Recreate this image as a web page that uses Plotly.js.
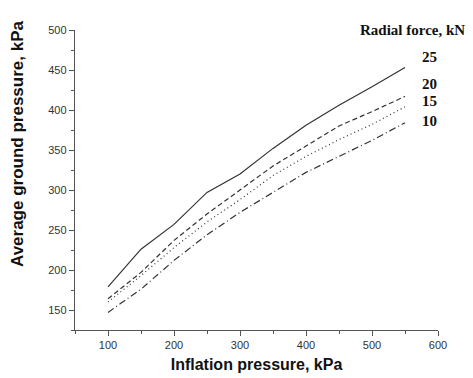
<!DOCTYPE html>
<html>
<head>
<meta charset="utf-8">
<script src="https://cdn.plot.ly/plotly-3.0.1.min.js"></script>
<style>html,body{margin:0;padding:0;background:#fff;}#chart{width:473px;height:378px;}</style>
</head>
<body>
<div id="chart"></div>
<script>
const inflation = [100, 150, 200, 250, 300, 350, 400, 450, 500, 550];
const force25 = [179, 226, 257, 297, 320, 352, 381, 406, 429, 453];
const force20 = [164, 197, 237, 270, 300, 330, 355, 380, 398, 417];
const force15 = [160, 193, 228, 260, 288, 318, 342, 363, 382, 404];
const force10 = [147, 176, 212, 244, 272, 297, 322, 342, 362, 384];
const seriesNames = ['25', '20', '15', '10'];
const dashes = ['solid', '5px,3px', '1px,3px', '7px,3px,1px,3px'];
const seriesData = [force25, force20, force15, force10];
const labelY = [0.91, 0.82, 0.763, 0.697];

const traces = seriesData.map((ys, i) => ({
  x: inflation, y: ys, type: 'scatter', mode: 'lines', name: seriesNames[i] + ' kN',
  line: {color: '#333', width: 1.2, dash: dashes[i]}, showlegend: false
}));

const serif = {family: 'Liberation Serif, Times New Roman, serif', size: 15, color: '#111'};
const annotations = [
  {xref: 'paper', yref: 'paper', x: 0.78, y: 1.0, xanchor: 'left', yanchor: 'middle',
   text: '<b>Radial force, kN</b>', showarrow: false, font: serif},
  {xref: 'paper', yref: 'paper', x: -0.16, y: 0.623, xanchor: 'center', yanchor: 'middle',
   textangle: -90, text: '<b>Average ground pressure, kPa</b>', showarrow: false,
   font: {family: 'Liberation Sans, Arial, sans-serif', size: 17, color: '#111'}}
];
seriesNames.forEach((n, i) => annotations.push({
  xref: 'paper', yref: 'paper', x: 0.95, y: labelY[i], xanchor: 'left', yanchor: 'middle',
  text: '<b>' + n + '</b>', showarrow: false, font: serif
}));

const axisCommon = {
  showgrid: false, zeroline: false, showline: true, linecolor: '#555', linewidth: 1.2,
  ticks: 'outside', ticklen: 5, tickwidth: 1, tickcolor: '#555',
  tickfont: {family: 'Liberation Sans, Arial, sans-serif', size: 11, color: '#333'},
  mirror: false
};

const layout = {
  width: 473, height: 378,
  margin: {l: 75, r: 35, t: 30, b: 48},
  paper_bgcolor: '#fff', plot_bgcolor: '#fff',
  showlegend: false,
  xaxis: Object.assign({}, axisCommon, {
    range: [50, 600], dtick: 100, tick0: 0,
    minor: {dtick: 50, tick0: 0, ticks: 'outside', ticklen: 3, tickcolor: '#555'},
    title: {text: '<b>Inflation pressure, kPa</b>', standoff: 8,
      font: {family: 'Liberation Sans, Arial, sans-serif', size: 16, color: '#111'}}
  }),
  yaxis: Object.assign({}, axisCommon, {
    range: [125, 500], dtick: 50, tick0: 0,
    minor: {dtick: 25, tick0: 0, ticks: 'outside', ticklen: 3, tickcolor: '#555'}
  }),
  annotations: annotations
};

Plotly.newPlot('chart', traces, layout, {staticPlot: true, displayModeBar: false});
</script>
</body>
</html>
